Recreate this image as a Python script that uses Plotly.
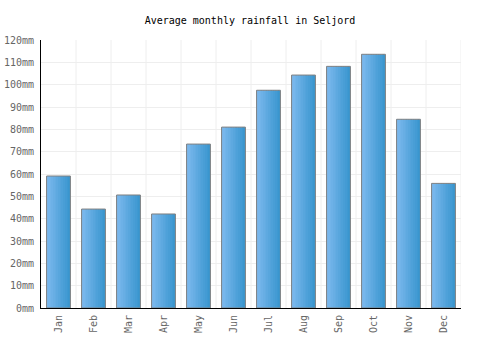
import plotly.graph_objects as go

months = ["Jan", "Feb", "Mar", "Apr", "May", "Jun", "Jul", "Aug", "Sep", "Oct", "Nov", "Dec"]
rainfall = [59.1, 44.3, 50.6, 42.1, 73.4, 81.0, 97.5, 104.3, 108.2, 113.6, 84.5, 55.8]
y_ticks = list(range(0, 121, 10))
y_labels = [f"{v}mm" for v in y_ticks]

bar_w = 0.68
n = 14
c0 = (124, 185, 238)
c1 = (58, 150, 207)

fig = go.Figure()
for i in range(n):
    t = i / (n - 1)
    col = tuple(round(a + (b - a) * t) for a, b in zip(c0, c1))
    fig.add_trace(go.Bar(
        x=months, y=rainfall,
        width=bar_w / n + 0.002,
        offset=-bar_w / 2 + i * bar_w / n,
        marker=dict(color=f"rgb{col}", line=dict(width=0)),
        hoverinfo="skip", showlegend=False,
    ))
fig.add_trace(go.Bar(
    x=months, y=rainfall, width=bar_w, offset=-bar_w / 2,
    marker=dict(color="rgba(0,0,0,0)", line=dict(color="#808080", width=1)),
    hoverinfo="skip", showlegend=False,
))

mono = "DejaVu Sans Mono"
fig.update_layout(
    width=500, height=350,
    margin=dict(l=41, r=39, t=40, b=42),
    barmode="overlay",
    paper_bgcolor="white", plot_bgcolor="white",
    title=dict(text="Average monthly rainfall in Seljord", x=0.5, xanchor="center",
               y=1 - 20 / 350, yanchor="middle",
               font=dict(family=mono, size=10, color="#000")),
    font=dict(family=mono, size=10, color="#666"),
    xaxis=dict(
        type="category", range=[-0.5, 11.5], automargin=False,
        showgrid=False, tickangle=-90, ticks="", ticklabelstandoff=2,
        showline=True, linecolor="#000", linewidth=1,
        tickfont=dict(family=mono, size=10, color="#666"),
    ),
    yaxis=dict(
        range=[0, 120], tickvals=y_ticks, ticktext=y_labels, automargin=False,
        showgrid=True, gridcolor="#eeeeee", gridwidth=1,
        showline=True, linecolor="#000", linewidth=1, ticks="",
        ticklabelstandoff=4, zeroline=False,
        tickfont=dict(family=mono, size=10, color="#666"),
    ),
)
# vertical grid lines at category boundaries
for k in range(1, 13):
    fig.add_vline(x=k - 0.5, line=dict(color="#eeeeee", width=1), layer="below")

fig.write_html("out.html")
